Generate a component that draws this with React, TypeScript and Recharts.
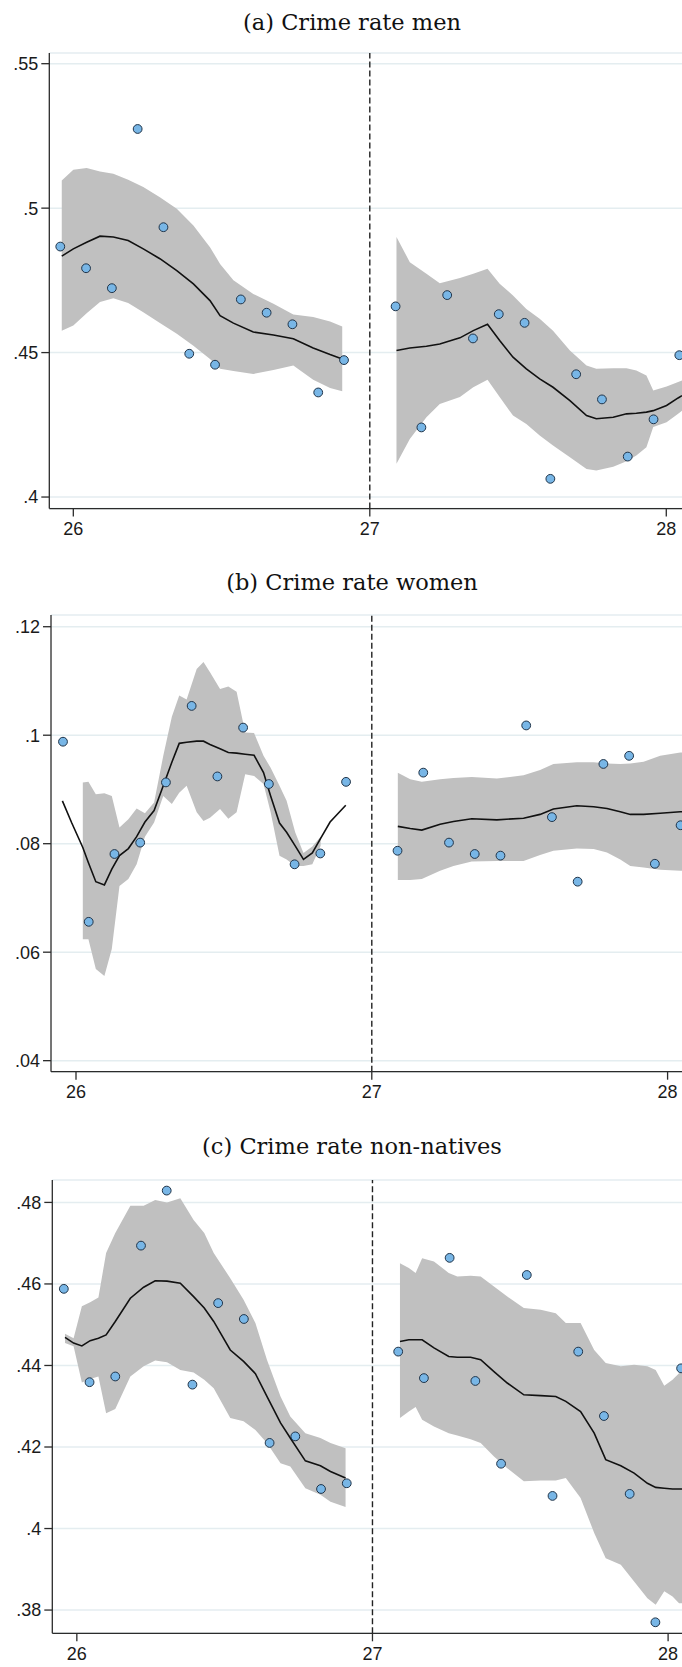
import React from "react";
import {
  ComposedChart,
  Area,
  Line,
  Scatter,
  XAxis,
  YAxis,
  CartesianGrid,
  ReferenceLine,
} from "recharts";

// bin midpoints (age in years), same for all three outcomes
const binsLeft = [25.956, 26.043, 26.130, 26.217, 26.304, 26.391, 26.478, 26.565, 26.652, 26.739, 26.826, 26.913];
const binsRight = [27.087, 27.174, 27.261, 27.348, 27.435, 27.522, 27.609, 27.696, 27.783, 27.870, 27.957, 28.044];
const ageTicks = [26, 27, 28];

// (a) crime rate men
const menPoints = [0.4867, 0.4792, 0.4723, 0.5274, 0.4934, 0.4496, 0.4458, 0.4684, 0.4638, 0.4598, 0.4362, 0.4474,
  0.4660, 0.4241, 0.4699, 0.4549, 0.4633, 0.4603, 0.4063, 0.4425, 0.4338, 0.4140, 0.4269, 0.4491];
const menAgeL = [25.961, 26.000, 26.045, 26.090, 26.135, 26.185, 26.236, 26.292, 26.349, 26.405, 26.461, 26.495, 26.540, 26.607, 26.675, 26.742, 26.809, 26.866, 26.907];
const menFitL = [0.4834, 0.4859, 0.4882, 0.4903, 0.4900, 0.4888, 0.4859, 0.4825, 0.4784, 0.4738, 0.4680, 0.4628, 0.4602, 0.4571, 0.4561, 0.4548, 0.4516, 0.4493, 0.4478];
const menHiL = [0.5096, 0.5133, 0.5139, 0.5127, 0.5119, 0.5098, 0.5073, 0.5038, 0.4998, 0.4940, 0.4865, 0.4807, 0.4750, 0.4703, 0.4669, 0.4632, 0.4623, 0.4608, 0.4590];
const menLoL = [0.4576, 0.4594, 0.4636, 0.4675, 0.4688, 0.4672, 0.4640, 0.4602, 0.4565, 0.4524, 0.4478, 0.4444, 0.4436, 0.4426, 0.4440, 0.4455, 0.4406, 0.4377, 0.4366];
const menAgeR = [27.090, 27.135, 27.191, 27.236, 27.304, 27.349, 27.397, 27.438, 27.483, 27.528, 27.573, 27.618, 27.675, 27.731, 27.764, 27.821, 27.866, 27.899, 27.933, 27.956, 28.001, 28.040, 28.053];
const menFitR = [0.4507, 0.4516, 0.4522, 0.4530, 0.4551, 0.4576, 0.4598, 0.4542, 0.4484, 0.4444, 0.4409, 0.4380, 0.4334, 0.4282, 0.4271, 0.4276, 0.4288, 0.4290, 0.4294, 0.4299, 0.4317, 0.4343, 0.4351];
const menHiR = [0.4900, 0.4813, 0.4773, 0.4740, 0.4758, 0.4773, 0.4790, 0.4738, 0.4698, 0.4651, 0.4617, 0.4576, 0.4507, 0.4455, 0.4444, 0.4446, 0.4446, 0.4438, 0.4421, 0.4369, 0.4383, 0.4398, 0.4403];
const menLoR = [0.4115, 0.4201, 0.4276, 0.4322, 0.4346, 0.4380, 0.4406, 0.4346, 0.4282, 0.4253, 0.4213, 0.4178, 0.4138, 0.4097, 0.4092, 0.4105, 0.4124, 0.4144, 0.4172, 0.4242, 0.4259, 0.4288, 0.4299];

// (b) crime rate women
const womPoints = [0.0988, 0.0656, 0.0781, 0.0802, 0.0913, 0.1054, 0.0924, 0.1014, 0.0910, 0.0762, 0.0782, 0.0914,
  0.0787, 0.0931, 0.0802, 0.0781, 0.0778, 0.1018, 0.0849, 0.0730, 0.0947, 0.0962, 0.0763, 0.0834];
const womAgeL = [25.954, 25.985, 26.023, 26.042, 26.067, 26.096, 26.121, 26.147, 26.177, 26.205, 26.233, 26.264, 26.295, 26.324, 26.349, 26.374, 26.408,
  26.431, 26.453, 26.487, 26.515, 26.543, 26.572, 26.602, 26.634, 26.658, 26.688, 26.712, 26.741, 26.769, 26.799, 26.827, 26.859, 26.912];
const womFitL = [0.0879, 0.0839, 0.0793, 0.0765, 0.0730, 0.0724, 0.0753, 0.0778, 0.0791, 0.0813, 0.0840, 0.0861, 0.0907, 0.0950, 0.0985, 0.0987, 0.0989,
  0.0989, 0.0983, 0.0975, 0.0968, 0.0967, 0.0965, 0.0963, 0.0931, 0.0888, 0.0838, 0.0821, 0.0796, 0.0771, 0.0783, 0.0810, 0.0840, 0.0871];
const womHiL = [null, null, 0.0913, 0.0914, 0.0891, 0.0893, 0.0888, 0.0830, 0.0845, 0.0865, 0.0856, 0.0876, 0.0962, 0.1034, 0.1073, 0.1066, 0.1122,
  0.1135, 0.1116, 0.1085, 0.1090, 0.1080, 0.1005, 0.1004, 0.0962, 0.0940, 0.0907, 0.0879, 0.0821, 0.0783, 0.0795, 0.0813, null, null];
const womLoL = [null, null, 0.0624, 0.0624, 0.0569, 0.0556, 0.0606, 0.0722, 0.0735, 0.0762, 0.0813, 0.0839, 0.0888, 0.0873, 0.0894, 0.0907, 0.0858,
  0.0842, 0.0848, 0.0864, 0.0846, 0.0858, 0.0928, 0.0925, 0.0910, 0.0858, 0.0778, 0.0771, 0.0759, 0.0759, 0.0762, 0.0796, null, null];
const womAgeR = [27.088, 27.130, 27.169, 27.231, 27.276, 27.338, 27.423, 27.513, 27.569, 27.614, 27.693, 27.750, 27.795, 27.840, 27.874, 27.919, 27.975, 28.043, 28.049];
const womFitR = [0.0832, 0.0828, 0.0825, 0.0836, 0.0841, 0.0846, 0.0844, 0.0847, 0.0854, 0.0864, 0.0870, 0.0868, 0.0865, 0.0859, 0.0854, 0.0854, 0.0856, 0.0859, 0.0859];
const womHiR = [0.0931, 0.0919, 0.0914, 0.0919, 0.0921, 0.0923, 0.0920, 0.0926, 0.0936, 0.0947, 0.0950, 0.0950, 0.0948, 0.0947, 0.0948, 0.0951, 0.0962, 0.0968, 0.0968];
const womLoR = [0.0733, 0.0733, 0.0735, 0.0750, 0.0759, 0.0767, 0.0768, 0.0768, 0.0779, 0.0787, 0.0791, 0.0790, 0.0784, 0.0771, 0.0759, 0.0756, 0.0752, 0.0750, 0.0750];

// (c) crime rate non-natives
const natPoints = [0.4588, 0.4359, 0.4373, 0.4694, 0.4829, 0.4353, 0.4553, 0.4514, 0.4210, 0.4226, 0.4097, 0.4111,
  0.4434, 0.4369, 0.4664, 0.4362, 0.4159, 0.4622, 0.4080, 0.4434, 0.4276, 0.4085, 0.3770, 0.4393];
const natAgeL = [25.960, 25.989, 26.017, 26.045, 26.073, 26.099, 26.130, 26.181, 26.226, 26.265, 26.305, 26.350, 26.395, 26.431, 26.463, 26.519, 26.564,
  26.604, 26.643, 26.689, 26.722, 26.773, 26.824, 26.858, 26.909];
const natFitL = [0.4469, 0.4455, 0.4448, 0.4461, 0.4467, 0.4475, 0.4508, 0.4565, 0.4592, 0.4608, 0.4607, 0.4602, 0.4569, 0.4541, 0.4508, 0.4438, 0.4410,
  0.4380, 0.4324, 0.4259, 0.4222, 0.4166, 0.4154, 0.4140, 0.4124];
const natHiL = [0.4478, 0.4467, 0.4545, 0.4555, 0.4567, 0.4676, 0.4725, 0.4792, 0.4792, 0.4806, 0.4800, 0.4810, 0.4757, 0.4725, 0.4676, 0.4614, 0.4561,
  0.4504, 0.4414, 0.4324, 0.4275, 0.4234, 0.4222, 0.4210, 0.4197];
const natLoL = [0.4455, 0.4447, 0.4358, 0.4367, 0.4373, 0.4283, 0.4293, 0.4373, 0.4398, 0.4412, 0.4408, 0.4389, 0.4383, 0.4365, 0.4344, 0.4271, 0.4263,
  0.4242, 0.4210, 0.4160, 0.4152, 0.4099, 0.4083, 0.4066, 0.4053];
const natAgeR = [27.093, 27.123, 27.146, 27.168, 27.208, 27.258, 27.287, 27.332, 27.366, 27.411, 27.456, 27.512, 27.569, 27.620, 27.654, 27.704, 27.750,
  27.789, 27.840, 27.885, 27.930, 27.958, 27.987, 28.015, 28.037, 28.047];
const natFitR = [0.4459, 0.4463, 0.4463, 0.4463, 0.4443, 0.4422, 0.4420, 0.4420, 0.4414, 0.4385, 0.4357, 0.4328, 0.4326, 0.4324, 0.4312, 0.4287, 0.4234,
  0.4169, 0.4154, 0.4136, 0.4111, 0.4101, 0.4099, 0.4097, 0.4097, 0.4097];
const natHiR = [0.4651, 0.4639, 0.4627, 0.4663, 0.4655, 0.4627, 0.4618, 0.4620, 0.4618, 0.4594, 0.4569, 0.4541, 0.4537, 0.4528, 0.4504, 0.4504, 0.4438,
  0.4406, 0.4398, 0.4402, 0.4398, 0.4389, 0.4350, 0.4365, 0.4381, 0.4385];
const natLoR = [0.4271, 0.4287, 0.4298, 0.4267, 0.4250, 0.4234, 0.4228, 0.4219, 0.4210, 0.4177, 0.4148, 0.4116, 0.4118, 0.4118, 0.4124, 0.4075, 0.3989,
  0.3927, 0.3911, 0.3870, 0.3829, 0.3813, 0.3846, 0.3833, 0.3817, 0.3817];

const TICK_FONT = "'Liberation Sans', Arial, sans-serif";
const AXIS_COLOR = "#2b2b2b";

function buildRows(ageL, fitL, loL, hiL, ageR, fitR, loR, hiR) {
  const left = ageL.map((x, i) => ({
    x,
    fitL: fitL[i],
    bandL: loL[i] == null ? null : [loL[i], hiL[i]],
  }));
  const right = ageR.map((x, i) => ({
    x,
    fitR: fitR[i],
    bandR: loR[i] == null ? null : [loR[i], hiR[i]],
  }));
  return [...left, ...right];
}

function buildPoints(values) {
  const xs = [...binsLeft, ...binsRight];
  return values.map((y, i) => ({ x: xs[i], y }));
}

const fmt = (v: number) => String(v).replace(/^0\./, ".");

const Marker = (props: any) => {
  const { cx, cy } = props;
  if (cx == null || cy == null) return null;
  return <circle cx={cx} cy={cy} r={4.4} fill="#78b6e6" stroke="#1f3348" strokeWidth={1} />;
};

const panels = [
  {
    title: "(a) Crime rate men",
    titleY: 29.5,
    plotTop: 52.7,
    plotBottom: 508.3,
    axisX: 49.3,
    xDomain: [25.919, 28.053],
    yDomain: [0.396, 0.5537],
    yTicks: [0.4, 0.45, 0.5, 0.55],
    rows: buildRows(menAgeL, menFitL, menLoL, menHiL, menAgeR, menFitR, menLoR, menHiR),
    points: buildPoints(menPoints),
  },
  {
    title: "(b) Crime rate women",
    titleY: 589.5,
    plotTop: 615,
    plotBottom: 1071.7,
    axisX: 51,
    xDomain: [25.9155, 28.0487],
    yDomain: [0.03797, 0.12216],
    yTicks: [0.04, 0.06, 0.08, 0.1, 0.12],
    rows: buildRows(womAgeL, womFitL, womLoL, womHiL, womAgeR, womFitR, womLoR, womHiR),
    points: buildPoints(womPoints),
  },
  {
    title: "(c) Crime rate non-natives",
    titleY: 1154,
    plotTop: 1180,
    plotBottom: 1633.3,
    axisX: 52.3,
    xDomain: [25.917, 28.047],
    yDomain: [0.3743, 0.4855],
    yTicks: [0.38, 0.4, 0.42, 0.44, 0.46, 0.48],
    rows: buildRows(natAgeL, natFitL, natLoL, natHiL, natAgeR, natFitR, natLoR, natHiR),
    points: buildPoints(natPoints),
  },
];

const TOP_PAD = 10;
const X_AXIS_H = 30;

function Panel({ p }) {
  const plotH = p.plotBottom - p.plotTop;
  return (
    <div style={{ position: "absolute", left: 0, top: p.plotTop - TOP_PAD }}>
      <ComposedChart
        width={682}
        height={plotH + TOP_PAD + X_AXIS_H}
        data={p.rows}
        margin={{ top: TOP_PAD, right: 0, bottom: 0, left: 0 }}
      >
        <CartesianGrid vertical={false} stroke="#e4edf0" strokeWidth={1.5} />
        <XAxis
          type="number"
          dataKey="x"
          domain={p.xDomain}
          ticks={ageTicks}
          allowDataOverflow
          height={X_AXIS_H}
          stroke={AXIS_COLOR}
          strokeWidth={1.3}
          tickSize={8}
          tickMargin={6}
          tick={{ fill: "#1a1a1a", fontSize: 18, fontFamily: TICK_FONT }}
        />
        <YAxis
          type="number"
          domain={p.yDomain}
          ticks={p.yTicks}
          allowDataOverflow
          width={p.axisX}
          stroke={AXIS_COLOR}
          strokeWidth={1.3}
          tickSize={8}
          tickMargin={3}
          tickFormatter={fmt}
          tick={{ fill: "#1a1a1a", fontSize: 18, fontFamily: TICK_FONT }}
        />
        <Area dataKey="bandL" fill="#c0c0c0" fillOpacity={1} stroke="none" isAnimationActive={false} />
        <Area dataKey="bandR" fill="#c0c0c0" fillOpacity={1} stroke="none" isAnimationActive={false} />
        <Line dataKey="fitL" stroke="#111" strokeWidth={1.6} dot={false} isAnimationActive={false} />
        <Line dataKey="fitR" stroke="#111" strokeWidth={1.6} dot={false} isAnimationActive={false} />
        <ReferenceLine x={27} stroke="#222" strokeWidth={1.4} strokeDasharray="6 3" />
        <Scatter data={p.points} dataKey="y" shape={<Marker />} isAnimationActive={false} />
      </ComposedChart>
    </div>
  );
}

export default function App() {
  return (
    <div style={{ position: "fixed", left: 0, top: 0, width: 682, height: 1667, overflow: "hidden", background: "#fff" }}>
      <svg width={682} height={1667} style={{ position: "absolute", left: 0, top: 0 }}>
        {panels.map((p) => (
          <text
            key={p.title}
            x={352}
            y={p.titleY}
            textAnchor="middle"
            fontFamily="'DejaVu Serif', serif"
            fontSize={22.5}
            fill="#111"
          >
            {p.title}
          </text>
        ))}
      </svg>
      {panels.map((p) => (
        <Panel key={p.title} p={p} />
      ))}
    </div>
  );
}
